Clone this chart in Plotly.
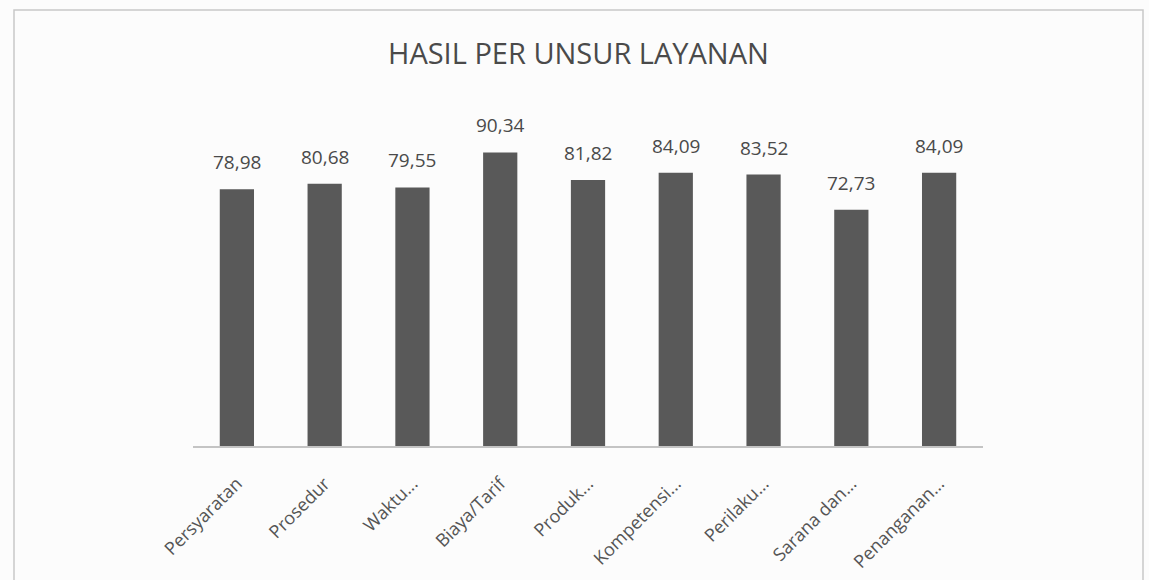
import plotly.graph_objects as go

categories = ["Persyaratan", "Prosedur", "Waktu...", "Biaya/Tarif", "Produk...",
              "Kompetensi...", "Perilaku...", "Sarana dan...", "Penanganan..."]
values = [78.98, 80.68, 79.55, 90.34, 81.82, 84.09, 83.52, 72.73, 84.09]
title_text = "HASIL PER UNSUR LAYANAN"

W, H = 1149, 580
L, R, T, B = 193, 166, 121, 134
pw = W - L - R
ph = H - T - B

def px(x):
    return (x - L) / pw

def py(y):
    return (H - B - y) / ph

font_fam = "Open Sans, Noto Sans, sans-serif"

fig = go.Figure(go.Bar(
    x=categories, y=values,
    marker=dict(color="#595959", line=dict(width=0)),
    hoverinfo="x+y",
))

label_annots = [
    dict(x=c, y=v, xref="x", yref="y", text=f"{v:.2f}".replace(".", ","),
         showarrow=False, xanchor="center", yanchor="bottom", yshift=12,
         font=dict(size=19, color="#4a4a4a", family=font_fam))
    for c, v in zip(categories, values)
]

fig.update_layout(
    width=W, height=H,
    margin=dict(l=L, r=R, t=T, b=B),
    paper_bgcolor="#fcfcfc", plot_bgcolor="#fcfcfc",
    bargap=0.61,
    showlegend=False,
    font=dict(family=font_fam, color="#555555"),
    xaxis=dict(tickangle=-45, showgrid=False, showline=True, linecolor="#c4c4c4",
               linewidth=2, ticks="", ticklabelstandoff=18, automargin=False,
               tickfont=dict(size=18, color="#555555")),
    yaxis=dict(range=[0, 100], visible=False),
    annotations=label_annots + [dict(text=title_text, xref="paper", yref="paper",
                      x=px(578), y=py(53), xanchor="center", yanchor="middle",
                      showarrow=False, font=dict(size=29, color="#4a4a4a", family=font_fam))],
    shapes=[dict(type="rect", xref="paper", yref="paper",
                 x0=px(14), x1=px(1143), y0=py(600), y1=py(10),
                 line=dict(color="#c8c8c8", width=1.5))],
)

fig.write_html("out.html")
